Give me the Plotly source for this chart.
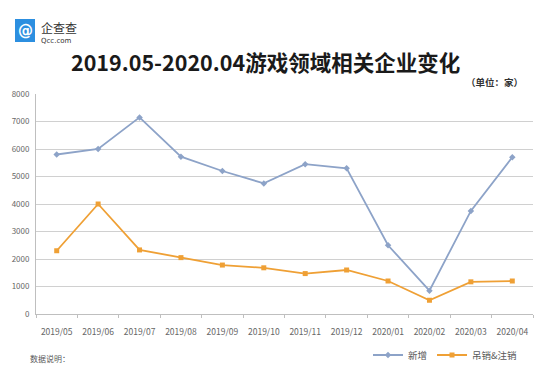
import plotly.graph_objects as go

months = ["2019/05", "2019/06", "2019/07", "2019/08", "2019/09", "2019/10",
          "2019/11", "2019/12", "2020/01", "2020/02", "2020/03", "2020/04"]
new_added = [5800, 6000, 7150, 5720, 5200, 4750, 5450, 5300, 2500, 850, 3750, 5700]
revoked = [2300, 4000, 2330, 2050, 1780, 1680, 1470, 1600, 1200, 500, 1170, 1200]
y_ticks = [0, 1000, 2000, 3000, 4000, 5000, 6000, 7000, 8000]

FONT = "Noto Sans CJK SC"
BLUE = "#8DA3C8"
ORANGE = "#EFA035"

fig = go.Figure()
fig.add_trace(go.Scatter(x=months, y=new_added, name="新增", mode="lines+markers",
                         line=dict(color=BLUE, width=1.8),
                         marker=dict(symbol="diamond", size=5, color=BLUE)))
fig.add_trace(go.Scatter(x=months, y=revoked, name="吊销&注销", mode="lines+markers",
                         line=dict(color=ORANGE, width=1.8),
                         marker=dict(symbol="square", size=5, color=ORANGE)))

fig.update_layout(
    width=540, height=371,
    margin=dict(l=36, r=7, t=94, b=57, autoexpand=False),
    paper_bgcolor="white", plot_bgcolor="white",
    font=dict(family=FONT, color="#595959"),
    showlegend=True,
    legend=dict(orientation="h", x=(522 - 36) / 497, xanchor="right",
                y=(314 - 355) / 220, yanchor="middle", itemwidth=30,
                font=dict(size=9.5, color="#595959"), bgcolor="rgba(0,0,0,0)",
                tracegroupgap=0),
    xaxis=dict(type="category", range=[-0.5, 11.5], tickson="boundaries",
               ticks="outside", ticklen=3, tickcolor="#BFBFBF", tickangle=0,
               ticklabelstandoff=10,
               showline=True, linecolor="#BFBFBF", linewidth=1, automargin=False,
               showgrid=False, tickfont=dict(size=8.5, color="#666666"), fixedrange=True),
    yaxis=dict(range=[0, 8000], tickvals=y_ticks, ticktext=[str(v) for v in y_ticks],
               showgrid=True, gridcolor="#D0D0D0", gridwidth=1, automargin=False,
               showline=True, linecolor="#BFBFBF", linewidth=1,
               ticks="", tickfont=dict(size=8, color="#666666"), zeroline=False,
               ticklabelstandoff=4, fixedrange=True),
)

# Title
fig.add_annotation(text="<b>2019.05-2020.04游戏领域相关企业变化</b>", xref="paper", yref="paper",
                   x=(265 - 36) / 497, y=(314 - 62) / 220, xanchor="center", yanchor="middle",
                   showarrow=False, font=dict(size=21.5, color="#1a1a1a", family=FONT))
fig.add_annotation(text="<b>（单位：家）</b>", xref="paper", yref="paper",
                   x=(525 - 36) / 497, y=(314 - 82) / 220, xanchor="right", yanchor="middle",
                   showarrow=False, font=dict(size=9.5, color="#333333", family=FONT))

# Logo
fig.add_shape(type="rect", xref="paper", yref="paper",
              x0=(15 - 36) / 497, x1=(35 - 36) / 497,
              y0=(314 - 42) / 220, y1=(314 - 19) / 220,
              fillcolor="#2C8FE0", line=dict(width=0), layer="above")
fig.add_annotation(text="<b>@</b>", xref="paper", yref="paper",
                   x=(25 - 36) / 497, y=(314 - 30.5) / 220, xanchor="center", yanchor="middle",
                   showarrow=False, font=dict(size=15, color="white", family="DejaVu Sans"))
fig.add_annotation(text="企查查", xref="paper", yref="paper",
                   x=(39 - 36) / 497, y=(314 - 27) / 220, xanchor="left", yanchor="middle",
                   showarrow=False, font=dict(size=12, color="#333333", family=FONT))
fig.add_annotation(text="Qcc.com", xref="paper", yref="paper",
                   x=(39 - 36) / 497, y=(314 - 41) / 220, xanchor="left", yanchor="middle",
                   showarrow=False, font=dict(size=7, color="#333333", family="DejaVu Sans"))

# Footnote
fig.add_annotation(text="数据说明：", xref="paper", yref="paper",
                   x=(28 - 36) / 497, y=(314 - 358) / 220, xanchor="left", yanchor="middle",
                   showarrow=False, font=dict(size=8, color="#595959", family=FONT))

fig.write_html("out.html", config={"displayModeBar": False},
               post_script="document.body.style.margin='0';document.body.style.padding='0';")
